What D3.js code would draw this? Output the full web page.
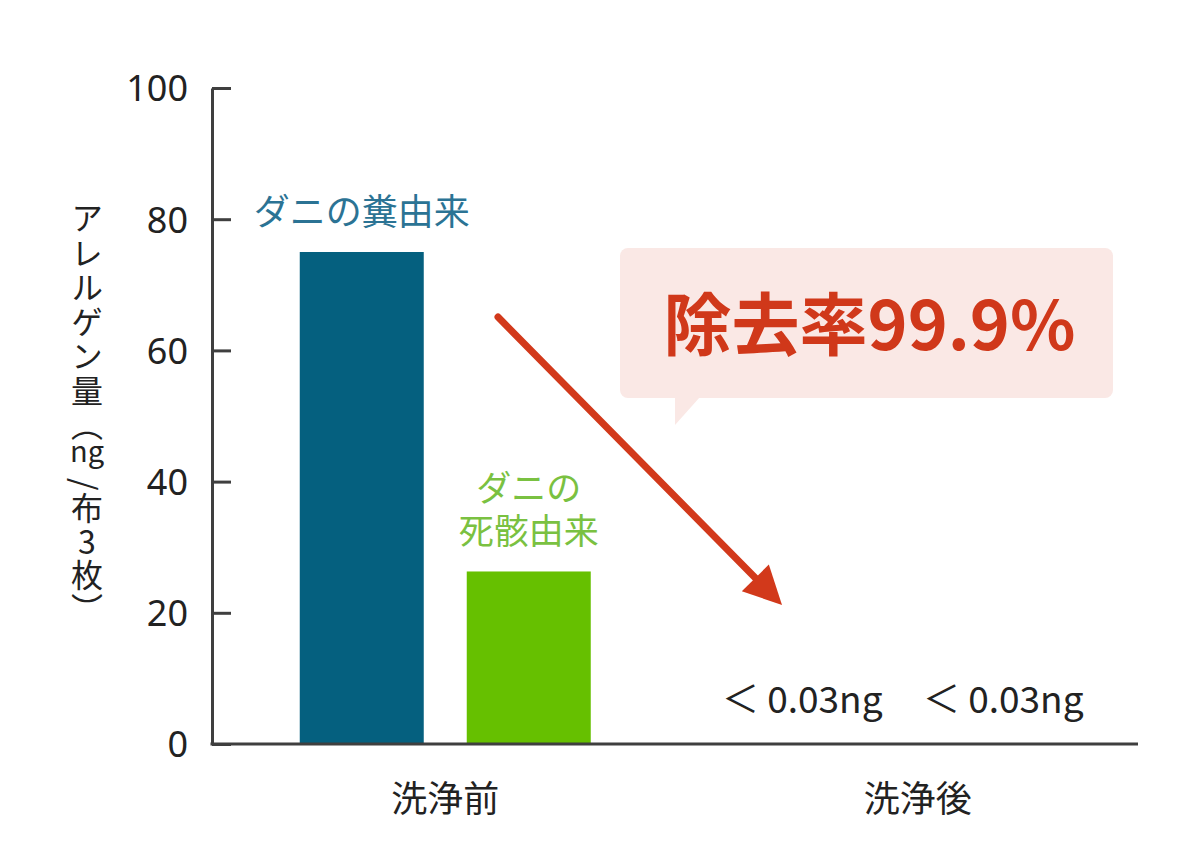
<!DOCTYPE html>
<html><head><meta charset="utf-8">
<script src="https://cdn.jsdelivr.net/npm/d3@7"></script>
<style>
body{margin:0;background:#fff}
svg{display:block}
text{font-family:"Noto Sans CJK JP","Noto Sans",sans-serif}
text.tight{font-family:"DejaVu Sans","Noto Sans CJK JP",sans-serif}
</style>
</head><body>
<svg id="chart" width="1200" height="858"></svg>
<script>
// ---- data ----
const categories = ["洗浄前", "洗浄後"];
const seriesNames = ["ダニの糞由来", "ダニの死骸由来"];
const fecesValues = [75, 0.03];      // ng / 3 cloths
const carcassValues = [26.3, 0.03];
const yTicks = [0, 20, 40, 60, 80, 100];
const seriesLabelLines = [["ダニの糞由来"], ["ダニの", "死骸由来"]];
const belowLimitLabels = ["＜ 0.03ng", "＜ 0.03ng"];
const yTitleTop = "アレルゲン量（";
const yTitleUnit = "ng";
const yTitleBottom = ["/布", "3", "枚）"];
const calloutText = "除去率99.9%";

// ---- layout ----
const svg = d3.select("#chart");
const W = 1200, H = 858;
const axisX = 212, axisY = 744, topY = 88, axisRight = 1138;
const seriesColors = ["#05607f", "#66c000"];
const labelColors = ["#2b7394", "#7ac141"];
const red = "#d2391b";

svg.append("rect").attr("width", W).attr("height", H).attr("fill", "#fff");

const y = d3.scaleLinear().domain([0, 100]).range([axisY, topY]);
const x0 = d3.scaleBand().domain(categories).range([209, 1154]).padding(0);
const x1 = d3.scaleBand().domain(seriesNames).range([-145.5, 145.5]).paddingInner(0.2575).paddingOuter(0);

const rows = categories.map((c, i) => ({
  cat: c,
  vals: [
    { s: seriesNames[0], v: fecesValues[i], k: 0 },
    { s: seriesNames[1], v: carcassValues[i], k: 1 }
  ]
}));

// bars
const g = svg.append("g");
g.selectAll("g.grp").data(rows).join("g").attr("class", "grp")
  .attr("transform", d => `translate(${x0(d.cat) + x0.bandwidth() / 2},0)`)
  .selectAll("rect").data(d => d.vals).join("rect")
  .attr("x", d => x1(d.s))
  .attr("width", x1.bandwidth())
  .attr("y", d => y(d.v))
  .attr("height", d => y(0) - y(d.v))
  .attr("fill", d => seriesColors[d.k]);

// y axis
const yAxis = d3.axisLeft(y).tickValues(yTicks).tickSizeInner(-19).tickSizeOuter(0).tickPadding(24);
const ya = svg.append("g").attr("transform", `translate(${axisX},0)`).call(yAxis);
ya.select(".domain").attr("stroke", "#3f3f3f").attr("stroke-width", 3);
ya.selectAll(".tick line").attr("stroke", "#3f3f3f").attr("stroke-width", 3);
ya.selectAll(".tick text").attr("fill", "#222").attr("font-size", 36).attr("dy", "0.36em")
  .style("font-family", "'Noto Sans','Noto Sans CJK JP',sans-serif");

// x axis
const xAxis = d3.axisBottom(x0).tickSize(0).tickPadding(42);
const xa = svg.append("g").attr("transform", `translate(0,${axisY})`).call(xAxis);
xa.select(".domain").remove();
xa.selectAll(".tick text").attr("fill", "#222").attr("font-size", 36);
svg.append("line").attr("x1", axisX - 1.5).attr("x2", axisRight).attr("y1", y(0)).attr("y2", y(0))
  .attr("stroke", "#3f3f3f").attr("stroke-width", 3);

// series labels above before-wash bars
const before = rows[0];
before.vals.forEach(d => {
  const lines = seriesLabelLines[d.k];
  const cx = x0(before.cat) + x0.bandwidth() / 2 + x1(d.s) + x1.bandwidth() / 2;
  const baseY = y(d.v) - 27;
  lines.forEach((t, i) => {
    svg.append("text").attr("class", "tight").attr("x", cx).attr("text-anchor", "middle")
      .attr("y", baseY - (lines.length - 1 - i) * 43)
      .attr("font-size", lines.length > 1 ? 35 : 36).attr("fill", labelColors[d.k])
      .text(t);
  });
});

// below-detection labels for after-wash
const after = rows[1];
const labelShift = [-32, 2];
after.vals.forEach((d, i) => {
  const cx = x0(after.cat) + x0.bandwidth() / 2 + x1(d.s) + x1.bandwidth() / 2 + labelShift[i];
  svg.append("text").attr("x", cx).attr("y", y(0) - 31).attr("text-anchor", "middle")
    .attr("font-size", 37).attr("fill", "#222").text(belowLimitLabels[i]);
});

// y axis title: vertical writing, with the unit set upright across
const titleX = 87;
svg.append("text")
  .attr("x", titleX).attr("y", 202)
  .attr("font-size", 32).attr("fill", "#222")
  .style("writing-mode", "vertical-rl")
  .style("letter-spacing", "2.5px")
  .text(yTitleTop);
svg.append("text")
  .attr("x", titleX).attr("y", 462)
  .attr("text-anchor", "middle")
  .attr("font-size", 29).attr("fill", "#222")
  .text(yTitleUnit);
const tb = svg.append("text")
  .attr("x", titleX).attr("y", 478)
  .attr("font-size", 32).attr("fill", "#222")
  .style("writing-mode", "vertical-rl")
  .style("letter-spacing", "1.5px");
tb.selectAll("tspan").data(yTitleBottom).join("tspan")
  .style("text-orientation", d => /^[0-9]+$/.test(d) ? "upright" : null)
  .text(d => d);

// callout bubble
const box = { x: 620, y: 248, w: 493, h: 150 };
svg.append("rect").attr("x", box.x).attr("y", box.y).attr("width", box.w).attr("height", box.h)
  .attr("rx", 8).attr("fill", "#fae8e5");
svg.append("path").attr("d", `M${box.x + 55},${box.y + box.h - 1}L${box.x + 80},${box.y + box.h - 1}L${box.x + 55},${box.y + box.h + 27}Z`)
  .attr("fill", "#fae8e5");
svg.append("text").attr("x", box.x + box.w / 2 + 3).attr("y", box.y + 102)
  .attr("text-anchor", "middle").attr("font-size", 68).attr("font-weight", 700)
  .attr("fill", "#d0381a").text(calloutText);

// arrow
const a0 = [498, 317], a1 = [782, 605];
const dx = a1[0] - a0[0], dy = a1[1] - a0[1], len = Math.hypot(dx, dy);
const ux = dx / len, uy = dy / len, headL = 38, headW = 19;
const bx = a1[0] - ux * headL, by = a1[1] - uy * headL;
svg.append("line").attr("x1", a0[0]).attr("y1", a0[1]).attr("x2", bx + ux * 4).attr("y2", by + uy * 4)
  .attr("stroke", red).attr("stroke-width", 7).attr("stroke-linecap", "round");
svg.append("path")
  .attr("d", `M${a1[0]},${a1[1]}L${bx - uy * headW},${by + ux * headW}L${bx + uy * headW},${by - ux * headW}Z`)
  .attr("fill", red);
</script>
</body></html>
